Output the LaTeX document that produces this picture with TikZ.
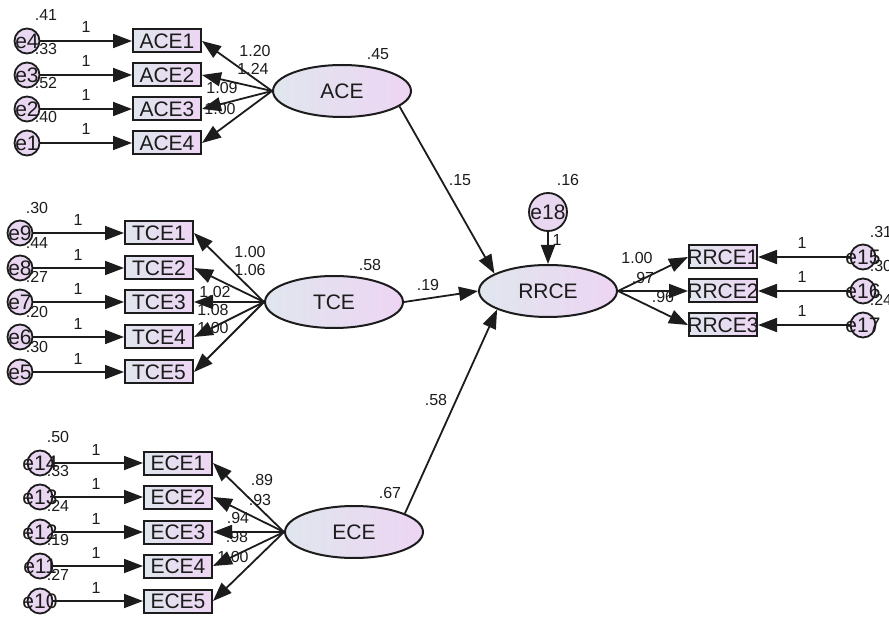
\documentclass[tikz,border=0pt]{standalone}
\usepackage{fontspec}
\setmainfont{Liberation Sans}
\usetikzlibrary{arrows.meta,shapes.geometric}

\definecolor{shadeL}{RGB}{224,230,238}
\definecolor{shadeR}{RGB}{237,213,243}
\definecolor{errfill}{RGB}{233,215,241}
\definecolor{ink}{RGB}{28,28,28}

\tikzset{
  obs/.style={draw=ink, line width=2pt, rectangle, minimum width=68pt,
    minimum height=23pt, inner sep=0pt, left color=shadeL, right color=shadeR,
    font=\fontsize{21}{21}\selectfont, text=ink},
  lat/.style={draw=ink, line width=2pt, ellipse, minimum width=138pt,
    minimum height=52pt, inner sep=0pt, left color=shadeL, right color=shadeR,
    font=\fontsize{21}{21}\selectfont, text=ink},
  err/.style={draw=ink, line width=1.8pt, circle, minimum size=25pt,
    inner sep=0pt, fill=errfill},
  bigerr/.style={err, minimum size=38pt},
  errtxt/.style={font=\fontsize{21}{21}\selectfont, text=ink, inner sep=0pt},
  num/.style={font=\fontsize{16}{16}\selectfont, text=ink, inner sep=0pt},
  arr/.style={draw=ink, line width=1.8pt, -{Triangle[length=19pt,width=14pt]}},
}

\begin{document}
\begin{tikzpicture}[x=1pt,y=-1pt]
\useasboundingbox (0,0) rectangle (889,617);

% latent variables
\node[lat] (ACE)  at (342,91)  {ACE};
\node[lat] (TCE)  at (334,302) {TCE};
\node[lat] (ECE)  at (354,532) {ECE};
\node[lat] (RRCE) at (548,291) {RRCE};
\node[bigerr] (e18) at (548,212) {};

% ACE indicators
\foreach \i/\e/\y in {1/4/41, 2/3/75, 3/2/109, 4/1/143} {
  \node[obs] (ACE\i) at (167,\y) {ACE\i};
  \node[err] (e\e) at (27,\y) {};
}
% TCE indicators
\foreach \i/\e/\y in {1/9/233, 2/8/268, 3/7/302, 4/6/337, 5/5/372} {
  \node[obs] (TCE\i) at (159,\y) {TCE\i};
  \node[err] (e\e) at (20,\y) {};
}
% ECE indicators
\foreach \i/\e/\y in {1/14/463, 2/13/497, 3/12/532, 4/11/566, 5/10/601} {
  \node[obs] (ECE\i) at (178,\y) {ECE\i};
  \node[err] (e\e) at (40,\y) {};
}
% RRCE indicators
\foreach \i/\e/\y in {1/15/257, 2/16/291, 3/17/325} {
  \node[obs] (RRCE\i) at (723,\y) {\makebox[0pt]{RRCE\i}};
  \node[err] (e\e) at (863,\y) {};
}

% coefficient labels
\foreach \t/\x/\y in {.41/46/15, .33/46/49, .52/46/83, .40/46/117,
    .30/37/208, .44/37/243, .27/37/277, .20/37/312, .30/37/347,
    .50/58/437, .33/58/471, .24/58/506, .19/58/540, .27/58/575,
    .31/881/232, .30/881/266, .24/881/300,
    1.20/255/51, 1.24/253/69, 1.09/222/88, 1.00/220/109,
    1.00/250/252, 1.06/250/270, 1.02/215/292, 1.08/213/310, 1.00/213/328,
    .89/262/480, .93/260/500, .94/238/518, .98/237/537, 1.00/233/557,
    1.00/637/258, .97/643/278, .96/663/297,
    .15/460/180, .19/428/285, .58/436/400,
    .45/378/54, .58/370/265, .67/390/493, .16/568/180} {
  \node[num] at (\x,\y) {\t};
}
\foreach \x/\y in {86/27, 86/61, 86/95, 86/129,
    78/220, 78/255, 78/289, 78/324, 78/359,
    96/450, 96/484, 96/519, 96/553, 96/588,
    802/243, 802/277, 802/311, 557/240} {
  \node[num] at (\x,\y) {1};
}

% measurement paths
\foreach \i in {1,...,4} \draw[arr] (ACE.west) -- (ACE\i.east);
\foreach \i in {1,...,5} \draw[arr] (TCE.west) -- (TCE\i.east);
\foreach \i in {1,...,5} \draw[arr] (ECE.west) -- (ECE\i.east);
\foreach \i in {1,...,3} \draw[arr] (RRCE.east) -- (RRCE\i.west);

% error paths
\foreach \i/\e in {1/4, 2/3, 3/2, 4/1} \draw[arr] (e\e) -- (ACE\i.west);
\foreach \i/\e in {1/9, 2/8, 3/7, 4/6, 5/5} \draw[arr] (e\e) -- (TCE\i.west);
\foreach \i/\e in {1/14, 2/13, 3/12, 4/11, 5/10} \draw[arr] (e\e) -- (ECE\i.west);
\foreach \i/\e in {1/15, 2/16, 3/17} \draw[arr] (e\e) -- (RRCE\i.east);

% structural paths
\draw[arr] (ACE.-15) -- (RRCE.162);
\draw[arr] (TCE.east) -- (RRCE.west);
\draw[arr] (ECE.20) -- (RRCE.200);
\draw[arr] (e18) -- (RRCE.north);

% error names on top of their circles
\foreach \e in {1,...,17} \node[errtxt] at (e\e) {e\e};
\node[errtxt] at (e18) {e18};
\end{tikzpicture}
\end{document}
